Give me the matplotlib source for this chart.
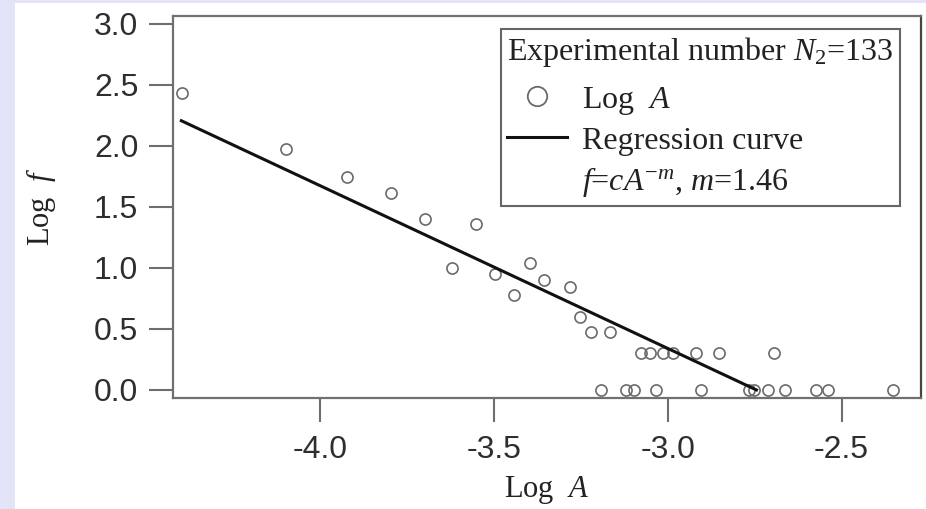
import matplotlib
matplotlib.use('Agg')
import matplotlib.pyplot as plt
from matplotlib.lines import Line2D
from matplotlib.patches import Rectangle

plt.rcParams['mathtext.fontset'] = 'custom'
plt.rcParams['mathtext.rm'] = 'Liberation Serif'
plt.rcParams['mathtext.it'] = 'Liberation Serif:italic'

# log A / log f of the experiments (f counted as integers)
log_a = [-4.398, -4.099, -3.923, -3.797, -3.699, -3.551, -3.620, -3.496,
         -3.398, -3.443, -3.356, -3.282, -3.253, -3.222, -3.167,
         -3.076, -3.051, -3.015, -2.984, -2.919, -2.852, -2.695,
         -3.193, -3.121, -3.097, -3.035, -2.905, -2.766, -2.751, -2.713,
         -2.663, -2.575, -2.538, -2.352]
log_f = [2.431, 1.978, 1.748, 1.613, 1.398, 1.362, 1.000, 0.954,
         1.041, 0.778, 0.903, 0.845, 0.602, 0.477, 0.477,
         0.301, 0.301, 0.301, 0.301, 0.301, 0.301, 0.301,
         0.0, 0.0, 0.0, 0.0, 0.0, 0.0, 0.0, 0.0,
         0.0, 0.0, 0.0, 0.0]

# regression line end points
fit_x = [-4.40, -2.745]
fit_y = [2.207, 0.0]

x_ticks = [-4.0, -3.5, -3.0, -2.5]
y_ticks = [0.0, 0.5, 1.0, 1.5, 2.0, 2.5, 3.0]

W, H = 926, 509
fig = plt.figure(figsize=(W / 100, H / 100), dpi=100)
fig.patch.set_facecolor('#e4e4f8')
fig.add_artist(Rectangle((15 / W, 0), 1, 1 - 3 / H, transform=fig.transFigure,
                         facecolor='white', edgecolor='none', zorder=-5))

ax = fig.add_axes([173 / W, 1 - 398 / H, (921 - 173) / W, (398 - 15.7) / H])
ax.set_zorder(2)

ax.plot(log_a, log_f, linestyle='none', marker='o', markersize=8,
        markerfacecolor='none', markeredgecolor='#6a6a6a', markeredgewidth=1.2)
ax.plot(fit_x, fit_y, color='#111111', linewidth=2.2)

ax.set_xlim(-4.424, -2.2715)
ax.set_ylim(-0.066, 3.068)
ax.set_xticks(x_ticks)
ax.set_yticks(y_ticks)
ax.set_xticklabels([f'{v:.1f}' for v in x_ticks])
ax.set_yticklabels([f'{v:.1f}' for v in y_ticks])

for s in ax.spines.values():
    s.set_color('#707070')
    s.set_linewidth(1.6)
ax.spines['right'].set_color('#454545')

ax.tick_params(direction='out', length=17, width=1.5, color='#6e6e6e',
               labelsize=23, labelcolor='#2e2e2e', pad=8)
ax.tick_params(axis='x', pad=10)
for lab in ax.get_xticklabels() + ax.get_yticklabels():
    lab.set_family(['Liberation Sans', 'DejaVu Sans'])

ax.set_xlabel('Log  $A$', family='Liberation Serif', fontsize=22, color='#222222')
ax.set_ylabel('Log  $f$', family='Liberation Serif', fontsize=22, color='#222222')
ax.xaxis.set_label_coords(0.5, -0.2)
ax.yaxis.set_label_coords(-0.1537, 0.5)

handles = [
    Line2D([], [], linestyle='none', marker='o', markersize=14,
           markerfacecolor='none', markeredgecolor='#6a6a6a', markeredgewidth=1.3),
    Line2D([], [], color='#111111', linewidth=2.2),
    Line2D([], [], linestyle='none'),
]
labels = ['Log  $A$', 'Regression curve', '$f$=$cA^{-m}$, $m$=1.46']
leg = ax.legend(handles, labels, title='Experimental number $N_2$=133',
                loc='upper right', bbox_to_anchor=(900 / W, 1 - 29 / H),
                bbox_transform=fig.transFigure, borderaxespad=0,
                prop={'family': 'Liberation Serif', 'size': 23},
                title_fontproperties={'family': 'Liberation Serif', 'size': 23},
                alignment='left', fancybox=False, framealpha=1,
                edgecolor='#666666', handlelength=1.85, handletextpad=0.48,
                borderpad=0.2, labelspacing=0.3)
leg._legend_box.sep = 11  # wider gap below the title line
leg.get_frame().set_linewidth(1.5)
leg.get_title().set_color('#222222')
for t in leg.get_texts():
    t.set_color('#222222')

fig.savefig('out.png', dpi=100)
